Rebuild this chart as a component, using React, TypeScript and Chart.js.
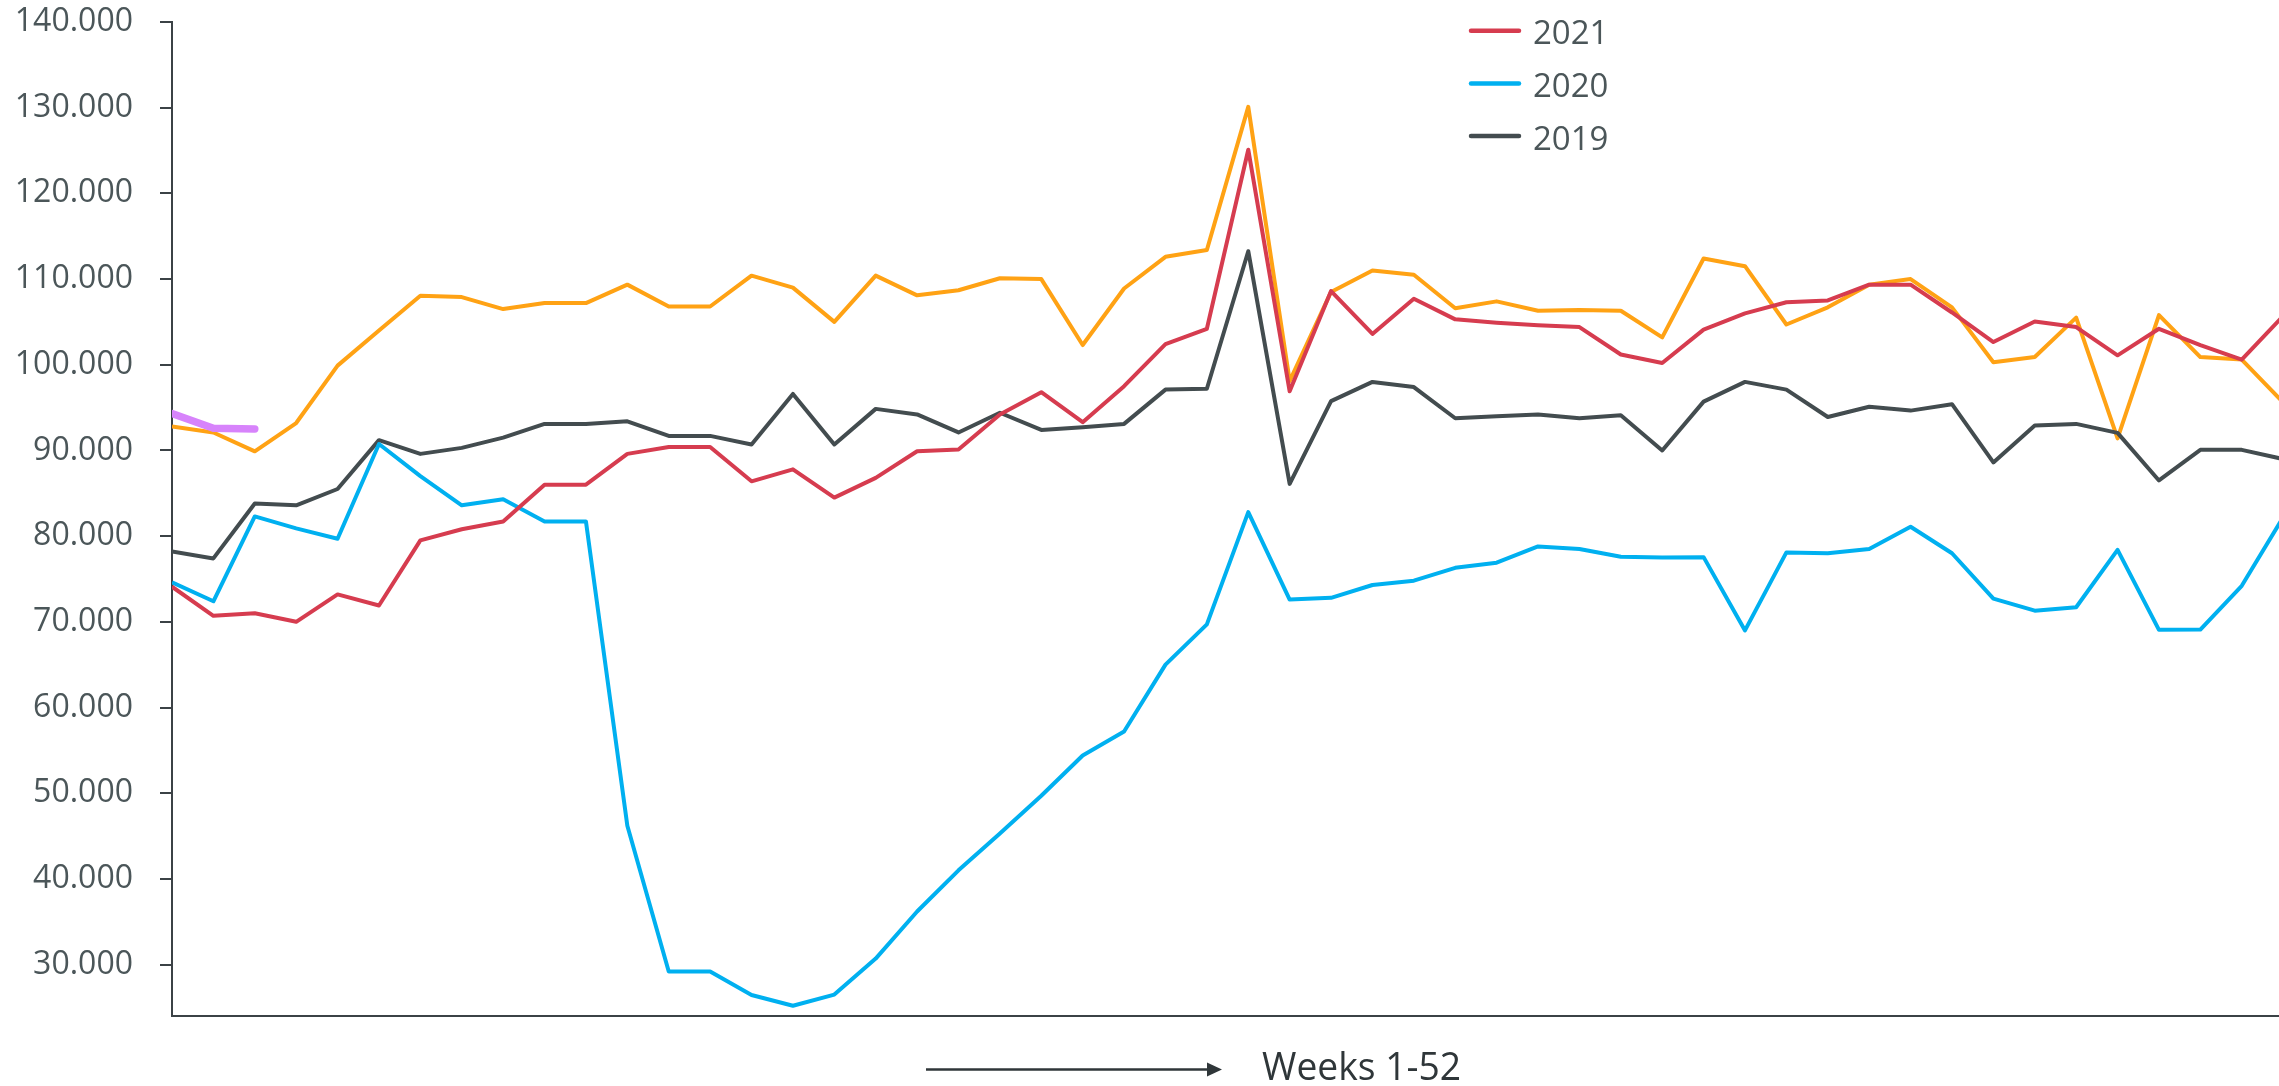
import React, { useEffect, useRef } from "react";
import { Chart, registerables } from "chart.js";

Chart.register(...registerables);

const WEEKS = [
  1, 2, 3, 4, 5, 6, 7, 8, 9, 10, 11, 12, 13, 14, 15, 16, 17, 18, 19, 20, 21, 22, 23, 24, 25, 26,
  27, 28, 29, 30, 31, 32, 33, 34, 35, 36, 37, 38, 39, 40, 41, 42, 43, 44, 45, 46, 47, 48, 49, 50, 51, 52,
];

const Y_TICKS = [30000, 40000, 50000, 60000, 70000, 80000, 90000, 100000, 110000, 120000, 130000, 140000];

const SERIES_2021 = [
  74100, 70700, 71000, 70000, 73200, 71900, 79500, 80800, 81700, 86000, 86000, 89600, 90400,
  90400, 86400, 87800, 84500, 86800, 89900, 90100, 94200, 96800, 93300, 97500, 102400, 104200,
  125100, 96900, 108600, 103600, 107700, 105300, 104900, 104600, 104400, 101200, 100200, 104100,
  106000, 107300, 107500, 109350, 109350, 106100, 102650, 105050, 104400, 101100, 104200, 102300,
  100600, 105700,
];

const SERIES_2020 = [
  74600, 72400, 82300, 80900, 79700, 90750, 87000, 83600, 84300, 81700, 81700, 46200, 29200,
  29200, 26450, 25200, 26500, 30700, 36200, 41000, 45300, 49700, 54400, 57200, 65000, 69700,
  82800, 72600, 72800, 74300, 74800, 76300, 76900, 78800, 78500, 77600, 77500, 77550, 69000,
  78100, 78000, 78500, 81100, 78000, 72700, 71300, 71700, 78400, 69070, 69100, 74200, 82200,
];

const SERIES_2019 = [
  78200, 77400, 83800, 83600, 85500, 91200, 89600, 90300, 91500, 93100, 93100, 93400, 91700,
  91700, 90700, 96600, 90700, 94850, 94200, 92100, 94400, 92400, 92700, 93100, 97100, 97200,
  113250, 86100, 95750, 98000, 97400, 93760, 94000, 94200, 93760, 94100, 90000, 95700, 98000,
  97100, 93900, 95100, 94650, 95400, 88600, 92900, 93100, 92050, 86500, 90070, 90070, 89000,
];

const SERIES_2018 = [
  92800, 92100, 89900, 93200, 99900, 104000, 108050, 107900, 106500, 107200, 107200, 109350,
  106800, 106800, 110400, 109000, 105000, 110400, 108100, 108700, 110100, 110000, 102300, 108900,
  112600, 113400, 130100, 98100, 108500, 111000, 110500, 106600, 107400, 106300, 106400, 106300,
  103200, 112400, 111500, 104700, 106700, 109350, 110000, 106700, 100300, 100900, 105500, 91400,
  105800, 100900, 100600, 95600,
];

const SERIES_2022 = [94300, 92600, 92500];

const LEGEND_LABELS = ["2021", "2020", "2019"];
const AXIS_TITLE = "Weeks 1-52";

const COLOR_2021 = "#d63c4f";
const COLOR_2020 = "#00b0f0";
const COLOR_2019 = "#434c4f";
const COLOR_2018 = "#ffa214";
const COLOR_2022 = "#d783fb";
const TEXT_COLOR = "#4b5659";
const AXIS_COLOR = "#3b4246";

const W = 2279;
const H = 1086;

export default function App() {
  const ref = useRef<HTMLCanvasElement>(null);

  useEffect(() => {
    const canvas = ref.current;
    if (!canvas) return;

    const toPts = (vals: number[]) => vals.map((v, i) => ({ x: WEEKS[i], y: v }));

    const legendPlugin = {
      id: "customLegend",
      afterDraw(chart: any) {
        const ctx = chart.ctx as CanvasRenderingContext2D;
        const items = LEGEND_LABELS.map((lab) => {
          const ds = chart.data.datasets.find((d: any) => d.label === lab);
          return { label: lab, color: ds ? ds.borderColor : "#000" };
        });
        ctx.save();
        items.forEach((it, k) => {
          const y = 30.7 + 52.7 * k;
          ctx.strokeStyle = it.color;
          ctx.lineWidth = 4.5;
          ctx.lineCap = "round";
          ctx.beginPath();
          ctx.moveTo(1471, y);
          ctx.lineTo(1519, y);
          ctx.stroke();
          ctx.fillStyle = TEXT_COLOR;
          ctx.font = '33px "Open Sans"';
          ctx.textAlign = "left";
          ctx.textBaseline = "alphabetic";
          ctx.fillText(it.label, 1533, y + 13.6);
        });
        ctx.restore();
      },
    };

    const weeksPlugin = {
      id: "weeksArrow",
      afterDraw(chart: any) {
        const ctx = chart.ctx as CanvasRenderingContext2D;
        ctx.save();
        ctx.strokeStyle = "#2f3639";
        ctx.fillStyle = "#2f3639";
        ctx.lineWidth = 2.6;
        ctx.beginPath();
        ctx.moveTo(926, 1069.5);
        ctx.lineTo(1210, 1069.5);
        ctx.stroke();
        ctx.beginPath();
        ctx.moveTo(1222, 1069.5);
        ctx.lineTo(1207, 1062.5);
        ctx.lineTo(1207, 1076.5);
        ctx.closePath();
        ctx.fill();
        ctx.font = '39px "Liberation Sans Narrow", "Open Sans"';
        ctx.textAlign = "left";
        ctx.textBaseline = "alphabetic";
        const w = ctx.measureText(AXIS_TITLE).width;
        const target = 199;
        ctx.translate(1262, 1080);
        ctx.scale(target / w, 1);
        ctx.fillText(AXIS_TITLE, 0, 0);
        ctx.restore();
      },
    };

    const chart = new Chart(canvas, {
      type: "line",
      data: {
        datasets: [
          {
            label: "2022",
            data: toPts(SERIES_2022),
            borderColor: COLOR_2022,
            backgroundColor: COLOR_2022,
            borderWidth: 7.5,
            borderCapStyle: "round",
            order: 0,
          },
          {
            label: "2021",
            data: toPts(SERIES_2021),
            borderColor: COLOR_2021,
            backgroundColor: COLOR_2021,
            borderWidth: 4,
            order: 1,
          },
          {
            label: "2020",
            data: toPts(SERIES_2020),
            borderColor: COLOR_2020,
            backgroundColor: COLOR_2020,
            borderWidth: 4,
            order: 2,
          },
          {
            label: "2019",
            data: toPts(SERIES_2019),
            borderColor: COLOR_2019,
            backgroundColor: COLOR_2019,
            borderWidth: 4,
            order: 3,
          },
          {
            label: "2018",
            data: toPts(SERIES_2018),
            borderColor: COLOR_2018,
            backgroundColor: COLOR_2018,
            borderWidth: 4,
            order: 4,
          },
        ],
      },
      options: {
        responsive: false,
        animation: false,
        devicePixelRatio: 1,
        elements: {
          point: { radius: 0, hoverRadius: 0 },
          line: { tension: 0, borderJoinStyle: "round", fill: false },
        },
        layout: { padding: { top: 22, bottom: 70, left: 0, right: 0 } },
        plugins: {
          legend: { display: false },
          tooltip: { enabled: false },
          title: { display: false },
        },
        scales: {
          x: {
            type: "linear",
            min: 1,
            max: 51.9,
            grid: { display: false },
            ticks: { display: false },
            border: { display: true, color: AXIS_COLOR, width: 2 },
            afterFit(s: any) {
              s.height = 0;
              s.paddingLeft = 0;
              s.paddingRight = 0;
            },
          },
          y: {
            type: "linear",
            min: 24000,
            max: 140000,
            afterBuildTicks(s: any) {
              s.ticks = Y_TICKS.map((v) => ({ value: v }));
            },
            afterFit(s: any) {
              s.width = 172;
              s.paddingTop = 0;
              s.paddingBottom = 0;
            },
            grid: {
              drawOnChartArea: false,
              drawTicks: true,
              tickLength: 12,
              color: AXIS_COLOR,
              lineWidth: 2,
            },
            border: { display: true, color: AXIS_COLOR, width: 2 },
            ticks: {
              padding: 27,
              color: TEXT_COLOR,
              font: { family: '"Open Sans"', size: 32 },
              callback: (v: any) => Number(v).toLocaleString("de-DE"),
            },
          },
        },
      },
      plugins: [legendPlugin, weeksPlugin],
    });

    return () => chart.destroy();
  }, []);

  return (
    <div
      style={{
        position: "fixed",
        left: 0,
        top: 0,
        width: W,
        height: H,
        overflow: "hidden",
        background: "#ffffff",
      }}
    >
      <canvas ref={ref} width={W} height={H} style={{ display: "block", width: W, height: H }} />
    </div>
  );
}
